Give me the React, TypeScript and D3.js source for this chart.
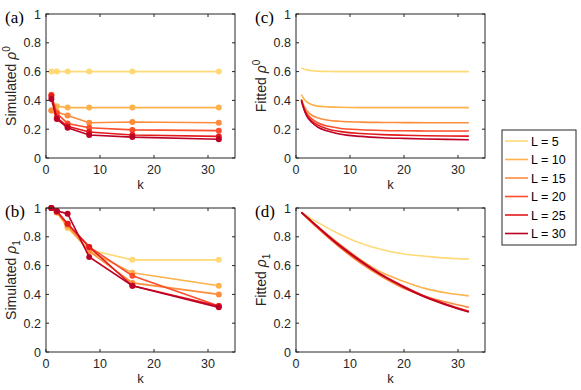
import React from 'react';
import * as d3 from 'd3';

// system sizes and colours
const Ls = [5, 10, 15, 20, 25, 30];
const colors = ['#fed976', '#feb24c', '#fd8d3c', '#fc4e2a', '#e31a1c', '#bd0026'];

// simulated points
const kSim = [1, 2, 4, 8, 16, 32];
const simRho0 = [
  [0.6, 0.6, 0.6, 0.6, 0.6, 0.6],
  [0.33, 0.36, 0.35, 0.35, 0.35, 0.35],
  [0.33, 0.32, 0.295, 0.245, 0.25, 0.245],
  [0.44, 0.31, 0.24, 0.21, 0.195, 0.19],
  [0.43, 0.28, 0.22, 0.18, 0.16, 0.15],
  [0.41, 0.27, 0.21, 0.16, 0.145, 0.13],
];
const simRho1 = [
  [1.0, 0.97, 0.86, 0.71, 0.64, 0.64],
  [1.0, 0.97, 0.87, 0.7, 0.55, 0.46],
  [1.0, 0.97, 0.88, 0.7, 0.48, 0.4],
  [1.0, 0.97, 0.89, 0.73, 0.53, 0.32],
  [1.0, 0.98, 0.89, 0.73, 0.46, 0.32],
  [1.0, 0.98, 0.96, 0.66, 0.46, 0.31],
];

// fitted curves, read at these k
const kFit0 = [1, 1.5, 2, 3, 4, 6, 8, 12, 16, 20, 24, 28, 32];
const fitRho0 = [
  [0.625, 0.617, 0.612, 0.606, 0.603, 0.601, 0.6, 0.6, 0.6, 0.6, 0.6, 0.6, 0.6],
  [0.44, 0.41, 0.39, 0.37, 0.36, 0.355, 0.352, 0.35, 0.35, 0.35, 0.35, 0.35, 0.35],
  [0.41, 0.36, 0.33, 0.295, 0.28, 0.262, 0.255, 0.249, 0.247, 0.246, 0.245, 0.245, 0.245],
  [0.4, 0.345, 0.31, 0.27, 0.245, 0.22, 0.207, 0.196, 0.191, 0.189, 0.188, 0.187, 0.187],
  [0.4, 0.34, 0.3, 0.255, 0.23, 0.2, 0.185, 0.17, 0.162, 0.158, 0.155, 0.153, 0.152],
  [0.4, 0.335, 0.29, 0.245, 0.215, 0.185, 0.167, 0.15, 0.141, 0.136, 0.132, 0.129, 0.127],
];
const kFit1 = [1, 4, 8, 12, 16, 20, 24, 28, 32];
const fitRho1 = [
  [0.97, 0.9, 0.82, 0.755, 0.71, 0.68, 0.665, 0.652, 0.645],
  [0.97, 0.87, 0.75, 0.64, 0.55, 0.49, 0.44, 0.41, 0.39],
  [0.97, 0.86, 0.73, 0.615, 0.52, 0.44, 0.385, 0.345, 0.31],
  [0.97, 0.865, 0.735, 0.625, 0.53, 0.45, 0.38, 0.325, 0.28],
  [0.97, 0.87, 0.745, 0.635, 0.535, 0.455, 0.385, 0.33, 0.283],
  [0.97, 0.87, 0.74, 0.63, 0.53, 0.45, 0.38, 0.325, 0.278],
];

const yTicks = [0, 0.2, 0.4, 0.6, 0.8, 1];
const xTicks = [0, 10, 20, 30];

const axisColor = '#262626';
const font = 'Liberation Sans, Arial, Helvetica, sans-serif';

const Panel = ({ left, top, tag, word, script, sup, xs, ys, markers }) => {
  const w = 189;
  const h = 144;
  const x = d3.scaleLinear().domain([0, 35]).range([left, left + w]);
  const y = d3.scaleLinear().domain([0, 1]).range([top + h, top]);
  const line = d3.line().x((d) => x(d[0])).y((d) => y(d[1]));
  if (!markers) line.curve(d3.curveMonotoneX);
  const cy = top + h / 2;

  return (
    <g>
      <text x={left - 41} y={top + 9} fontFamily="Liberation Serif, Times New Roman, serif" fontSize={17} fill="#000">
        {tag}
      </text>
      {ys.map((vals, i) => (
        <g key={i}>
          <path
            d={line(xs.map((k, j) => [k, vals[j]]))}
            fill="none"
            stroke={colors[i]}
            strokeWidth={1.6}
          />
          {markers &&
            xs.map((k, j) => (
              <circle key={j} cx={x(k)} cy={y(vals[j])} r={3} fill={colors[i]} />
            ))}
        </g>
      ))}
      <rect x={left} y={top} width={w} height={h} fill="none" stroke={axisColor} strokeWidth={1} />
      {yTicks.map((t) => (
        <g key={t}>
          <line x1={left} x2={left + 3} y1={y(t)} y2={y(t)} stroke={axisColor} />
          <line x1={left + w - 3} x2={left + w} y1={y(t)} y2={y(t)} stroke={axisColor} />
          <text x={left - 5} y={y(t) + 4.5} textAnchor="end" fontFamily={font} fontSize={12.5} fill={axisColor}>
            {t}
          </text>
        </g>
      ))}
      {xTicks.map((t) => (
        <g key={t}>
          <line x1={x(t)} x2={x(t)} y1={top + h} y2={top + h - 3} stroke={axisColor} />
          <line x1={x(t)} x2={x(t)} y1={top} y2={top + 3} stroke={axisColor} />
          <text x={x(t)} y={top + h + 16} textAnchor="middle" fontFamily={font} fontSize={12.5} fill={axisColor}>
            {t}
          </text>
        </g>
      ))}
      <text x={left + w / 2} y={top + h + 31} textAnchor="middle" fontFamily={font} fontSize={13} fill={axisColor}>
        k
      </text>
      <text
        transform={`translate(${left - 30},${cy}) rotate(-90)`}
        textAnchor="middle"
        fontFamily={font}
        fontSize={14}
        fill={axisColor}
      >
        {word} <tspan fontStyle="italic">ρ</tspan>
        <tspan fontSize={10} dy={sup ? -6 : 4}>{script}</tspan>
      </text>
    </g>
  );
};

const App = () => {
  const lx = 502;
  const ly = 130;
  return (
    <svg width={581} height={390} style={{ position: 'absolute', left: 0, top: 0, background: '#fff' }}>
      <Panel left={46} top={14} tag="(a)" word="Simulated" script="0" sup xs={kSim} ys={simRho0} markers />
      <Panel left={46} top={208} tag="(b)" word="Simulated" script="1" sup={false} xs={kSim} ys={simRho1} markers />
      <Panel left={296} top={14} tag="(c)" word="Fitted" script="0" sup xs={kFit0} ys={fitRho0} markers={false} />
      <Panel left={296} top={208} tag="(d)" word="Fitted" script="1" sup={false} xs={kFit1} ys={fitRho1} markers={false} />
      <g>
        <rect x={lx} y={ly} width={74} height={115} fill="#fff" stroke={axisColor} strokeWidth={1} />
        {Ls.map((L, i) => {
          const yy = ly + 11 + i * 18.5;
          return (
            <g key={L}>
              <line x1={lx + 3} x2={lx + 26} y1={yy} y2={yy} stroke={colors[i]} strokeWidth={1.6} />
              <text x={lx + 29} y={yy + 4.5} fontFamily={font} fontSize={12.5} fill="#000">
                {`L = ${L}`}
              </text>
            </g>
          );
        })}
      </g>
    </svg>
  );
};

export default App;
